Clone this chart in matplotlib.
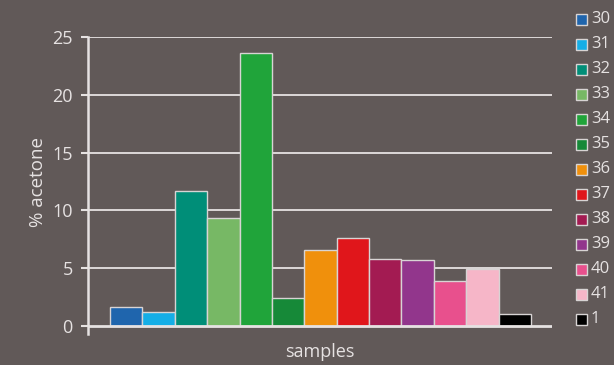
import matplotlib
matplotlib.use("Agg")
import matplotlib.pyplot as plt
from matplotlib.patches import Rectangle

samples = ["30", "31", "32", "33", "34", "35", "36", "37", "38", "39", "40", "41", "1"]
acetone = [1.6, 1.2, 11.7, 9.3, 23.6, 2.4, 6.6, 7.6, 5.8, 5.7, 3.9, 4.9, 1.0]
colors = ["#1f65ad", "#15aee6", "#008e78", "#77b865", "#20a43a", "#168938",
          "#f0900c", "#e0161b", "#a31b52", "#92368c", "#e8508d", "#f6b6c8", "#000000"]
yticks = [0, 5, 10, 15, 20, 25]

BG = "#615958"
FG = "#e6e2e2"
W, H = 614, 365

plt.rcParams['font.family'] = ['Open Sans', 'DejaVu Sans']

fig = plt.figure(figsize=(W / 100, H / 100), dpi=100, facecolor=BG)
ax = fig.add_axes([88 / W, 1 - 334 / H, (552 - 88) / W, (334 - 37) / H], facecolor=BG)

x = list(range(len(samples)))
ax.bar(x, acetone, width=1.0, color=colors, edgecolor="#d8d4d4", linewidth=1.0, zorder=3)

ax.set_xlim(-1.18, 13.15)
ax.set_ylim(-0.7, 25)
ax.set_yticks(yticks)
ax.set_yticklabels([str(t) for t in yticks], color=FG, fontsize=13)
ax.set_xticks([])
for t in yticks[1:]:
    ax.axhline(t, color=FG, linewidth=1.3, zorder=1)
ax.axhline(0, color=FG, linewidth=2, zorder=4)

for s in ["top", "right", "bottom"]:
    ax.spines[s].set_visible(False)
ax.spines["left"].set_color(FG)
ax.spines["left"].set_linewidth(1.8)
ax.tick_params(axis="y", direction="out", length=5, width=1.5, color=FG, pad=6)

fig.text(320 / W, 1 - 352 / H, "samples", color=FG, fontsize=13, ha="center", va="center")
fig.text(38 / W, 1 - 182 / H, "% acetone", color=FG, fontsize=13.5, ha="center", va="center", rotation=90)

# legend
for i, (lab, c) in enumerate(zip(samples, colors)):
    cy = 19 + 25 * i
    fig.add_artist(Rectangle((576 / W, 1 - (cy + 5.5) / H), 11 / W, 11 / H,
                             transform=fig.transFigure, facecolor=c,
                             edgecolor="#d8d4d4", linewidth=1.0))
    fig.text(591 / W, 1 - cy / H, lab, color=FG, fontsize=12, ha="left", va="center")

fig.savefig("out.png", dpi=100, facecolor=BG)
